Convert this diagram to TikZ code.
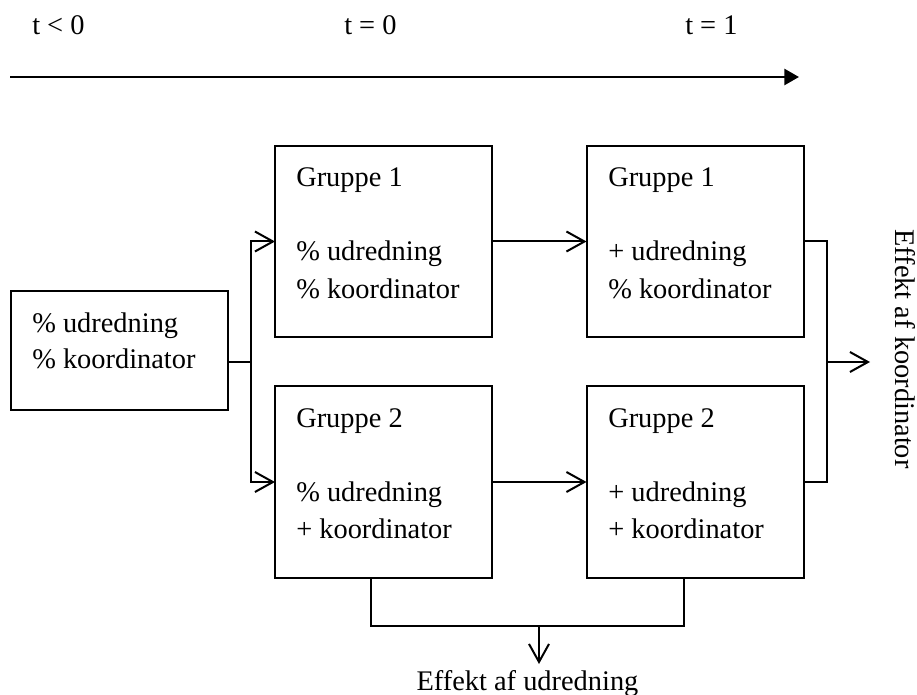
\documentclass[tikz,border=0pt]{standalone}
\usepackage{fontspec}
\setmainfont{Liberation Serif}
\usetikzlibrary{arrows.meta}
\begin{document}
\begin{tikzpicture}[x=0.75pt,y=-0.75pt,
  box/.style={draw, line width=1.5pt, minimum width=162.75pt, inner sep=0pt, outer sep=0pt},
  lbl/.style={anchor=base west, inner sep=0pt, font=\fontsize{21.3}{25}\selectfont},
  conn/.style={line width=1.5pt},
  arr/.style={line width=1.5pt, -{Straight Barb[length=13.5pt,width=15pt]}}]
\useasboundingbox (0,0) rectangle (917,695);
% time axis
\node[lbl] (t1) at (32,35) {t < 0};
\node[lbl] (t2) at (344,35) {t = 0};
\node[lbl] (t3) at (685,35) {t = 1};
\coordinate (ts) at (10,77);
\coordinate (te) at (799,77);
\draw[line width=2pt, -{Triangle[length=11pt,width=12pt]}] (ts) -- (te);
% boxes
\node[box, minimum height=89.25pt] (L) at (119.5,350.5) {};
\node[box, minimum height=143.25pt] (A) at (383.5,241.5) {};
\node[box, minimum height=144pt] (B) at (383.5,482) {};
\node[box, minimum height=143.25pt] (C) at (695,241.5) {};
\node[box, minimum height=144pt] (D) at (695,482) {};
% texts
\node[lbl] (L1) at (32,332) {\% udredning};
\node[lbl] (L2) at (32,368) {\% koordinator};
\node[lbl] (A0) at (296,187) {Gruppe 1};
\node[lbl] (A1) at (296,261) {\% udredning};
\node[lbl] (A2) at (296,298) {\% koordinator};
\node[lbl] (B0) at (296,427) {Gruppe 2};
\node[lbl] (B1) at (296,501) {\% udredning};
\node[lbl] (B2) at (296,538) {+ koordinator};
\node[lbl] (C0) at (608,187) {Gruppe 1};
\node[lbl] (C1) at (608,261) {+ udredning};
\node[lbl] (C2) at (608,298) {\% koordinator};
\node[lbl] (D0) at (608,427) {Gruppe 2};
\node[lbl] (D1) at (608,501) {+ udredning};
\node[lbl] (D2) at (608,538) {+ koordinator};
% left connectors
\coordinate (j1) at (251,362);
\draw[conn] (L.east |- j1) -- (j1);
\draw[arr] (j1) |- (A.west);
\draw[arr] (j1) |- (B.west);
% middle
\draw[arr] (A.east) -- (C.west);
\draw[arr] (B.east) -- (D.west);
% right
\coordinate (j2) at (827,362);
\coordinate (e2) at (870,362);
\draw[conn] (C.east) -| (j2);
\draw[conn] (D.east) -| (j2);
\draw[arr] (j2) -- (e2);
\node[lbl, anchor=base, rotate=-90] (ek) at (895,349) {Effekt af koordinator};
% bottom
\coordinate (b1) at (371,626);
\coordinate (b2) at (684,626);
\coordinate (j3) at (539,626);
\coordinate (e3) at (539,664);
\draw[conn] (B.south -| b1) -- (b1) -- (b2) -- (D.south -| b2);
\draw[arr] (j3) -- (e3);
\node[lbl, anchor=base] (eu) at (527.5,690) {Effekt af udredning};
\end{tikzpicture}
\end{document}
